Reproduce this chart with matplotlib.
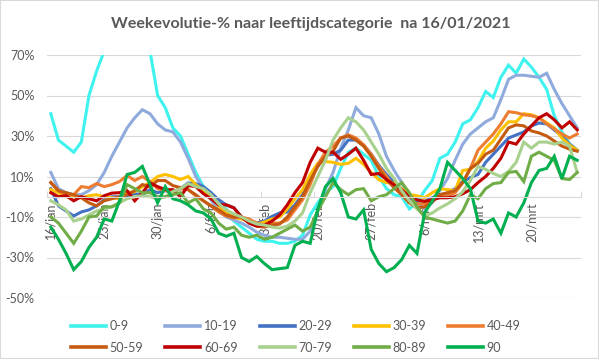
import numpy as np
import matplotlib.pyplot as plt
from matplotlib.patches import Rectangle
from matplotlib.ticker import FuncFormatter

# weekly evolution (%) per age group, one value per day from 16/jan to 26/mrt
age_0_9 = [41, 28, 25, 22, 27, 50, 62, 72, 85, 95,
           100, 95, 85, 72, 50, 44, 34, 30, 21, 12,
           5, 2, -3, -6, -12, -15, -18, -21, -22, -22,
           -23, -23, -22, -19, -9, -3, 2, 5, 14, 22,
           24, 21, 18, 10, 4, 1, 0, -6, -3, 3,
           8, 19, 21, 27, 36, 38, 44, 52, 49, 59,
           65, 61, 68, 64, 59, 53, 40, 32, 26, 23]

age_10_19 = [12, 4, 2, 1, 1, 3, 6, 12, 20, 27,
             34, 39, 43, 41, 36, 33, 32, 27, 19, 10,
             4, -1.5, -7, -10, -11.5, -13, -15, -17.5, -19, -20,
             -20, -20.5, -21, -21, -17, -7, 4, 12, 24, 33,
             44, 40, 39, 31, 20, 13, 7, -1, -3, -6,
             -3, 3, 9, 18, 26, 31, 34, 37, 39, 48,
             58, 60, 60, 59.5, 59, 61, 53, 46, 40, 34]

age_20_29 = [4, -4.5, -7, -9.5, -7.5, -6.5, -4.5, -1.5, 0, 0,
             0.5, 1.5, 1, 3.5, 2, 3, 2.5, 4, 6.8, 6.5,
             5, 2, -1.5, -4, -5.5, -10, -12.5, -13, -12, -9.7,
             -8, -7.5, -4, 1, 9, 15, 20.5, 21, 23, 28,
             28, 25.5, 21, 15.5, 11, 7, 2.5, -0.5, -2, -2.3,
             -0.5, 1, 1.8, 4, 7.5, 9.5, 11, 17, 21, 25,
             29, 30.5, 32, 35, 36.4, 36, 33, 30, 26, 23]

age_30_39 = [3.5, 2, 0, 0, -0.5, 0.5, 1, 0, -0.5, -1,
             2, 2.5, 5, 7, 10, 11, 10, 8.5, 10, 6,
             3, 0, -4.5, -8, -10, -11, -12, -13.5, -12.5, -11,
             -10, -6, -1, 3.5, 11, 16.6, 17.4, 17, 16, 16.5,
             19, 16, 12, 8.4, 7, 6.8, 4, 1, 0.5, -0.5,
             2, 4, 3.5, 3, 13, 13.5, 17.4, 24, 27.5, 33,
             37, 37, 41, 40.5, 39, 36.5, 34, 29, 25.5, 23]

age_40_49 = [7, 3, 1, 1, 5, 4.5, 6.5, 5, 6, 7.5,
             10.5, 8, 10, 7.5, 4, 3, 2.6, 4, 3.5, 0.5,
             -2, -4.5, -7.5, -9.5, -10.5, -10, -11, -13, -14, -13,
             -13, -11.5, -6.5, -1.5, 6, 16, 22, 25, 29, 30.6,
             29, 25.7, 21, 15, 10, 5, 1, -2.5, -3.5, -3.5,
             -1.5, 0, 0.5, 2, 7, 14, 23, 27, 31, 36,
             42, 41.5, 40.5, 40, 39, 36, 33.5, 31, 29, 31]

age_50_59 = [7, 3, 2, 1, -0.5, -3, -4.5, -2, -1, 0,
             1, 3, 6, 5, 8, 8, 5.5, 4.5, 3.5, 1,
             -2, -4.5, -6.5, -9, -10, -10, -13, -14.5, -15, -14,
             -13.5, -10, -5, 0, 8, 15, 20, 22.5, 29, 30,
             28, 25, 20, 14, 8.5, 4.5, 1, -3, -5.5, -5,
             -2.5, 1, 2, 3, 7, 14, 16.5, 21, 23, 28.5,
             34, 35.5, 35, 32.5, 31.5, 30, 27.5, 25, 23.5, 22.5]

age_60_69 = [2, 0, 0.5, -2, 0, -1, -2, 0.5, 1.8, 2,
             3, -2, 2, 6.8, 5, 3.5, 3.5, 0, 5.5, 5,
             1.5, -1, -4, -4, -5.5, -10, -13, -14.5, -14, -12,
             -9, -4, 2, 7, 17, 24, 22, 22, 18.5, 21,
             24, 18, 11, 11.5, 8.5, 6, 3.5, 0, -1.5, -2.3,
             -1.5, -0.5, -0.5, 0, 1.5, 3.5, 7, 10, 14, 19,
             27, 26, 31, 35, 39, 41, 38, 34, 37, 33]

age_70_79 = [-2, -4, -6.5, -12, -11, -9, -7, -6, -5, -3,
             -1, 0, 0.5, 0, -1, 0, 2.6, 4, 6.5, 5,
             4, 1, -3.5, -6.5, -8.5, -10, -12, -13.5, -14, -15,
             -15.5, -14.5, -12, -8, 2, 10, 18, 28, 34, 39,
             37, 33, 27, 21, 14, 9, 3, -2, -6, -9.5,
             -8, -5.5, -3.5, -1, 2.5, 8, 15, 13.5, 11.5, 10,
             12.5, 17, 27, 24, 27, 27, 26, 27, 25, 12]

age_80_89 = [-10, -13, -18, -23, -17, -10, -9.5, -5, -5, -3,
             6, 4, 2, 2, 0, 0, 1, 2, -3, -1,
             -6, -8, -13, -16, -15, -19, -20, -19, -21, -20,
             -18, -16, -14, -17, -15, -7, 0, 7, 3.5, 1,
             3.5, 4, -2, 0, 1, 4, 7, 2, -5, -10,
             -11, -12, -13, -12, -7, 1, -1, 4, 6.5, 7,
             12, 12.5, 7.5, 20, 22, 20, 18, 9, 8.5, 12]

age_90 = [-15, -21, -28, -36, -32, -25, -20, -11, -12, -2,
          11, 12, 15, 6, -3, 5, -1, -2, -4, -7,
          -8, -11, -18, -19.5, -18, -30, -32, -29.5, -33, -36,
          -35.5, -35, -24, -22, -23, -6, 5, 9, 2, -10,
          -11, -6.5, -26, -33, -37, -35, -31, -24, -28, -8,
          -2, 4, 17, 13, 9, 4, -12, -13, -11, -18,
          -8, -10, -3, 7, 13, 14, 20, 9, 20, 18]

labels = ["0-9", "10-19", "20-29", "30-39", "40-49",
          "50-59", "60-69", "70-79", "80-89", "90"]
colors = ["#3EF2EE", "#8FAADC", "#4472C4", "#FFC000", "#ED7D31",
          "#C55A11", "#C00000", "#A9D18E", "#70AD47", "#00B050"]
series = [age_0_9, age_10_19, age_20_29, age_30_39, age_40_49,
          age_50_59, age_60_69, age_70_79, age_80_89, age_90]

date_labels = ["16/jan", "23/jan", "30/jan", "6/feb", "13/feb",
               "20/feb", "27/feb", "6/mrt", "13/mrt", "20/mrt"]

plt.rcParams["font.family"] = ["Lato", "DejaVu Sans"]
grey = "#595959"
light = "#D9D9D9"

fig = plt.figure(figsize=(5.99, 3.59), dpi=100)
ax = fig.add_axes([47 / 599, 1 - 298 / 359, 534 / 599, 243 / 359])

x = np.arange(len(age_0_9))
lines = []
for values, name, col in zip(series, labels, colors):
    ln, = ax.plot(x, values, color=col, lw=2.2, label=name, solid_joinstyle="miter")
    lines.append(ln)

ax.set_xlim(-0.5, len(x) - 0.5)
ax.set_ylim(-50, 70)
ax.set_yticks(np.arange(-50, 71, 20))
ax.yaxis.set_major_formatter(FuncFormatter(lambda v, p: f"{v:.0f}%"))
ax.grid(axis="y", color=light, lw=0.8)
ax.set_axisbelow(True)

for side in ["left", "right", "top"]:
    ax.spines[side].set_visible(False)
ax.spines["bottom"].set_position(("data", 0))
ax.spines["bottom"].set_color(light)

# tick marks sit between categories, labels on the weekly dates
ax.set_xticks(np.arange(-0.5, len(x), 7))
ax.set_xticklabels([])
ax.set_xticks(np.arange(0, len(x), 7), minor=True)
ax.set_xticklabels(date_labels, minor=True, rotation=90, va="top", ha="center")
ax.tick_params(axis="x", which="major", direction="in", length=4, color=light)
ax.tick_params(axis="x", which="minor", length=0, pad=4, labelsize=9, labelcolor=grey)
ax.tick_params(axis="y", length=0, pad=9, labelsize=9, labelcolor=grey)

fig.text(0.518, 1 - 24 / 359, "Weekevolutie-% naar leeftijdscategorie  na 16/01/2021",
         ha="center", va="center", fontsize=11.5, fontweight="bold", color=grey)

# legend filled row by row
order = [0, 5, 1, 6, 2, 7, 3, 8, 4, 9]
leg = fig.legend([lines[i] for i in order], [labels[i] for i in order],
                 loc="center", bbox_to_anchor=(0.494, 1 - 337 / 359), ncol=5,
                 frameon=False, fontsize=9, handlelength=2.8, handletextpad=0.3,
                 columnspacing=1.75, labelspacing=0.75)
for t in leg.get_texts():
    t.set_color(grey)
for h in leg.get_lines():
    h.set_linewidth(2.6)

fig.patches.append(Rectangle((0, 0), 1, 1, transform=fig.transFigure,
                             fill=False, edgecolor=light, lw=1.5))

plt.savefig("out.png", dpi=100)
plt.close()
